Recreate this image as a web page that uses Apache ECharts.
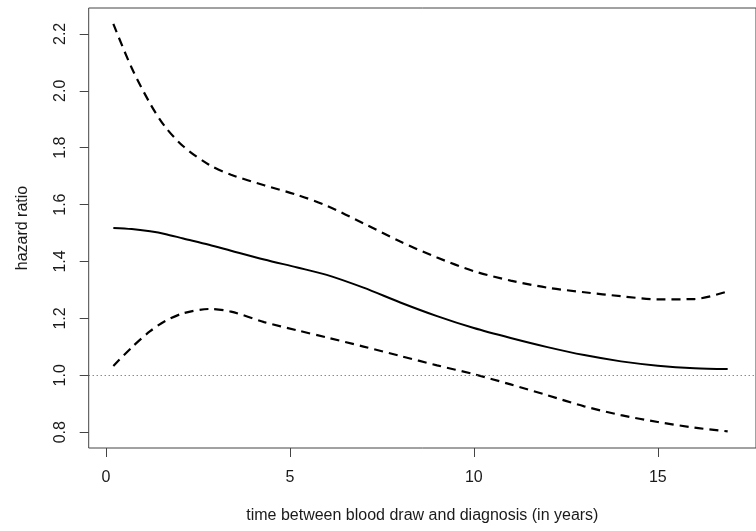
<!DOCTYPE html>
<html>
<head>
<meta charset="utf-8">
<title>hazard ratio</title>
<script src="https://cdn.jsdelivr.net/npm/echarts@6/dist/echarts.min.js"></script>
<style>
    html, body { margin: 0; padding: 0; background: #fff; }
    #chart { width: 756px; height: 531px; }
</style>
</head>
<body>
<div id="chart"></div>
<script>
/**
 ******************************** 数据 ********************************
 */
// x: time between blood draw and diagnosis (years)
var years = [0.2, 0.7, 1.2, 1.6, 2.1, 2.8, 3.4, 4.3, 5.2, 6.0, 7.0, 8.0, 9.0, 10.0, 11.0, 12.0, 13.0, 14.0, 15.0, 16.0, 16.9];

// 估计值 (solid)
var hazard = [1.518, 1.514, 1.506, 1.497, 1.481, 1.459, 1.438, 1.407, 1.379, 1.353, 1.308, 1.256, 1.208, 1.166, 1.131, 1.099, 1.071, 1.049, 1.034, 1.025, 1.022];
// 置信区间上限 (dashed)
var upper = [2.235, 2.080, 1.955, 1.875, 1.805, 1.740, 1.705, 1.668, 1.634, 1.596, 1.534, 1.470, 1.414, 1.366, 1.333, 1.308, 1.292, 1.278, 1.267, 1.268, 1.295];
// 置信区间下限 (dashed)
var lower = [1.033, 1.098, 1.155, 1.190, 1.218, 1.233, 1.224, 1.187, 1.158, 1.133, 1.101, 1.068, 1.035, 1.004, 0.968, 0.930, 0.891, 0.860, 0.836, 0.816, 0.803];

var xTicks = [0, 5, 10, 15];
var yTicks = [0.8, 1.0, 1.2, 1.4, 1.6, 1.8, 2.0, 2.2];
var refLevel = 1.0;   // 虚线参考线

// ***********************************************************************

var FONT = '"Liberation Sans", Arial, Helvetica, sans-serif';
var TEXT = '#1a1a1a';

function pairs(ys) {
    return years.map(function (x, i) { return [x, ys[i]]; });
}

function curve(ys, dashed) {
    return {
        type: 'line',
        data: pairs(ys),
        smooth: 0.3,
        showSymbol: false,
        silent: true,
        lineStyle: {
            color: '#000',
            width: dashed ? 2.2 : 2,
            type: dashed ? [9, 6] : 'solid'
        }
    };
}

var chart = echarts.init(document.getElementById('chart'));

var hr = curve(hazard, false);
hr.markLine = {
    silent: true,
    symbol: 'none',
    label: { show: false },
    lineStyle: { color: '#555', width: 1, type: [1, 3] },
    data: [{ yAxis: refLevel }]
};

chart.setOption({
    animation: false,
    grid: {
        left: 88.7, top: 8, bottom: 83, right: -14,
        show: true,
        borderColor: '#444',
        borderWidth: 1,
        backgroundColor: 'transparent'
    },
    xAxis: {
        type: 'value',
        min: -0.47,
        max: 17.67,
        name: 'time between blood draw and diagnosis (in years)',
        nameLocation: 'middle',
        nameGap: 60,
        nameTextStyle: { fontFamily: FONT, fontSize: 16, color: TEXT },
        axisLine: { show: false, onZero: false },
        splitLine: { show: false },
        axisTick: { show: true, length: 9, customValues: xTicks, lineStyle: { color: '#444' } },
        axisLabel: { customValues: xTicks, margin: 22, fontFamily: FONT, fontSize: 16, color: TEXT }
    },
    yAxis: {
        type: 'value',
        min: 0.7445,
        max: 2.291,
        name: 'hazard ratio',
        nameLocation: 'middle',
        nameGap: 58,
        nameTextStyle: { fontFamily: FONT, fontSize: 16, color: TEXT },
        axisLine: { show: false, onZero: false },
        splitLine: { show: false },
        axisTick: { show: true, length: 9, customValues: yTicks, lineStyle: { color: '#444' } },
        axisLabel: {
            customValues: yTicks,
            rotate: 90,
            margin: 20,
            fontFamily: FONT, fontSize: 16, color: TEXT,
            formatter: function (v) { return v.toFixed(1); }
        }
    },
    series: [hr, curve(upper, true), curve(lower, true)]
});
</script>
</body>
</html>
